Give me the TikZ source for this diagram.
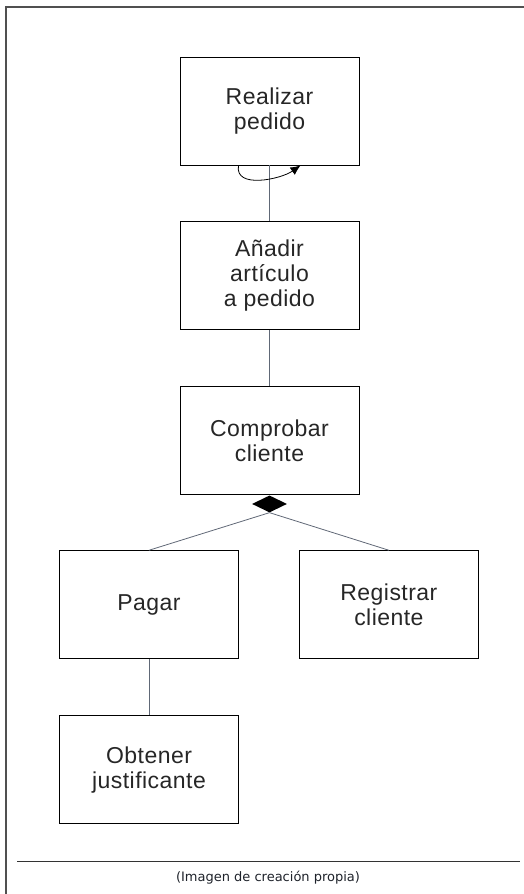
\documentclass[tikz,border=0pt]{standalone}
\usepackage{fontspec}
\setmainfont{Liberation Sans}[LetterSpace=2]
\newfontfamily\capfont{DejaVu Sans}
\usepackage{tikz}
\usetikzlibrary{arrows.meta,positioning,shapes.geometric}
\definecolor{lgray}{RGB}{96,104,118}
\definecolor{fgray}{RGB}{80,80,80}
\definecolor{cgray}{RGB}{30,34,42}

\begin{document}
\begin{tikzpicture}[
  x=1pt, y=-1pt,
  font=\fontsize{23}{25}\selectfont,
  node distance=56pt and 60pt,
  task/.style={draw,line width=0.9pt,minimum width=179pt,minimum height=108pt,align=center,text=black!85,inner sep=0pt},
  link/.style={draw=lgray,line width=0.8pt},
  agg/.style={diamond,fill=black,inner sep=0pt,minimum width=35pt,minimum height=17pt},
  arr/.style={-{Latex[length=10pt,width=9pt]},line width=0.8pt}
]
\useasboundingbox (0,0) rectangle (524,894);
% frame
\draw[fgray,line width=1.6pt] (6,894) -- (6,7) -- (524,7);
\draw[black!80,line width=1pt] (17,861) -- (520,861);
\node[font=\capfont\fontsize{13}{15}\selectfont,text=cgray] (caption) at (268,878) {(Imagen de creación propia)};

\node[task] (realizar) at (269.5,111) {Realizar\\pedido};
\node[task,below=of realizar] (anadir) {Añadir\\artículo\\a pedido};
\node[task,below=of anadir] (comprobar) {Comprobar\\cliente};
\node[agg,anchor=north] (agg) at (comprobar.south) {};
\node[task,below=55pt of comprobar,xshift=-120.5pt] (pagar) {Pagar};
\node[task,right=of pagar] (registrar) {Registrar\\cliente};
\node[task,below=of pagar] (obtener) {Obtener\\justificante};

\draw[link] (realizar) -- (anadir);
\draw[link] (anadir) -- (comprobar);
\draw[link] (agg.south) -- (pagar.north);
\draw[link] (agg.south) -- (registrar.north);
\draw[link] (pagar) -- (obtener);
\draw[arr] ([xshift=-31pt]realizar.south) to[out=-100,in=-145] ([xshift=31pt]realizar.south);
\end{tikzpicture}
\end{document}
